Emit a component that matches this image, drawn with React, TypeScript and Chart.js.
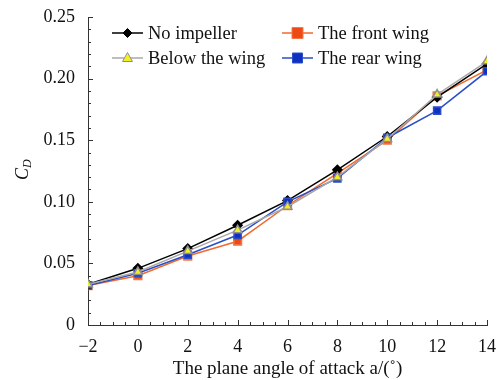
import React, { useEffect, useRef } from "react";
import { Chart, registerables } from "chart.js";

Chart.register(...registerables);

const angles = [-2, 0, 2, 4, 6, 8, 10, 12, 14];
const noImpeller = [0.033, 0.046, 0.062, 0.081, 0.101, 0.126, 0.153, 0.185, 0.212];
const frontWing = [0.032, 0.040, 0.056, 0.068, 0.097, 0.123, 0.150, 0.186, 0.207];
const belowWing = [0.033, 0.043, 0.060, 0.077, 0.096, 0.120, 0.151, 0.187, 0.214];
const rearWing = [0.032, 0.042, 0.057, 0.073, 0.100, 0.119, 0.152, 0.174, 0.206];
const seriesLabels = ["No impeller", "The front wing", "Below the wing", "The rear wing"];
const xTickValues = [-2, 0, 2, 4, 6, 8, 10, 12, 14];
const xTickLabels = ["\u22122", "0", "2", "4", "6", "8", "10", "12", "14"];
const yTickValues = [0, 0.05, 0.1, 0.15, 0.2, 0.25];
const yTickLabels = ["0", "0.05", "0.10", "0.15", "0.20", "0.25"];
const xTitle = "The plane angle of attack a/(\u02da)";

const FONT = "'Liberation Serif', 'Times New Roman', serif";

function toPoints(vals: number[]) {
  return angles.map((a, i) => ({ x: a, y: vals[i] }));
}

function drawMarker(ctx: CanvasRenderingContext2D, style: string, x: number, y: number, r: number, fill: string, stroke: string) {
  ctx.save();
  ctx.beginPath();
  if (style === "rectRot") {
    ctx.moveTo(x, y - r);
    ctx.lineTo(x + r, y);
    ctx.lineTo(x, y + r);
    ctx.lineTo(x - r, y);
    ctx.closePath();
  } else if (style === "rect") {
    ctx.rect(x - r, y - r, 2 * r, 2 * r);
  } else if (style === "triangle") {
    ctx.moveTo(x, y - r * 1.1);
    ctx.lineTo(x + r, y + r * 0.7);
    ctx.lineTo(x - r, y + r * 0.7);
    ctx.closePath();
  }
  ctx.fillStyle = fill;
  ctx.fill();
  ctx.strokeStyle = stroke;
  ctx.lineWidth = 1;
  ctx.stroke();
  ctx.restore();
}

const customPlugin = {
  id: "custom",
  afterDraw(chart: any) {
    const ctx = chart.ctx as CanvasRenderingContext2D;
    const xs = chart.scales.x;
    const ys = chart.scales.y;
    const area = chart.chartArea;
    ctx.save();
    ctx.strokeStyle = "#333";
    ctx.lineWidth = 1;
    // x ticks inward
    for (let v = -2; v <= 14.001; v += 0.5) {
      const px = Math.round(xs.getPixelForValue(v)) + 0.5;
      const major = Math.abs(v / 2 - Math.round(v / 2)) < 1e-6;
      const len = major ? 5 : 3;
      ctx.beginPath();
      ctx.moveTo(px, area.bottom);
      ctx.lineTo(px, area.bottom - len);
      ctx.stroke();
    }
    for (let i = 0; i <= 25; i++) {
      const v = i * 0.01;
      const py = Math.round(ys.getPixelForValue(v)) + 0.5;
      const len = i % 5 === 0 ? 5 : 3;
      ctx.beginPath();
      ctx.moveTo(area.left, py);
      ctx.lineTo(area.left + len, py);
      ctx.stroke();
    }
    // y title C_D
    ctx.fillStyle = "#111";
    ctx.translate(23, (area.top + area.bottom) / 2);
    ctx.rotate(-Math.PI / 2);
    ctx.textBaseline = "middle";
    ctx.textAlign = "left";
    ctx.font = `italic 18px ${FONT}`;
    const wC = ctx.measureText("C").width;
    ctx.fillText("C", -9, 0);
    ctx.font = `italic 12px ${FONT}`;
    ctx.fillText("D", -9 + wC, 5);
    ctx.restore();

    // legend
    ctx.save();
    const positions = [
      { x: 112, y: 33 },
      { x: 282, y: 33 },
      { x: 112, y: 58 },
      { x: 282, y: 58 },
    ];
    chart.data.datasets.forEach((ds: any, i: number) => {
      const p = positions[i];
      ctx.strokeStyle = ds.borderColor;
      ctx.lineWidth = ds.borderWidth;
      ctx.beginPath();
      ctx.moveTo(p.x, p.y);
      ctx.lineTo(p.x + 31, p.y);
      ctx.stroke();
      drawMarker(ctx, ds.pointStyle, p.x + 15.5, p.y, ds.pointRadius, ds.pointBackgroundColor, ds.pointBorderColor);
      ctx.fillStyle = "#111";
      ctx.font = `18.5px ${FONT}`;
      ctx.textBaseline = "middle";
      ctx.textAlign = "left";
      ctx.fillText(ds.label, p.x + 36, p.y + 1);
    });
    ctx.restore();
  },
};

export default function App() {
  const ref = useRef<HTMLCanvasElement>(null);
  useEffect(() => {
    document.body.style.margin = "0";
    const chart = new Chart(ref.current!, {
      type: "line",
      data: {
        datasets: [
          {
            label: seriesLabels[0],
            data: toPoints(noImpeller),
            borderColor: "#000000",
            borderWidth: 1.5,
            pointStyle: "rectRot",
            pointRadius: 4.5,
            pointBackgroundColor: "#000000",
            pointBorderColor: "#000000",
            order: 2,
          },
          {
            label: seriesLabels[1],
            data: toPoints(frontWing),
            borderColor: "#f26a2e",
            borderWidth: 1.5,
            pointStyle: "rect",
            pointRadius: 5.5,
            pointBackgroundColor: "#ee4a14",
            pointBorderColor: "#f07a4a",
            order: 3,
          },
          {
            label: seriesLabels[2],
            data: toPoints(belowWing),
            borderColor: "#a8a8a8",
            borderWidth: 1.5,
            pointStyle: "triangle",
            pointRadius: 5,
            pointBackgroundColor: "#f4f020",
            pointBorderColor: "#909090",
            order: 0,
          },
          {
            label: seriesLabels[3],
            data: toPoints(rearWing),
            borderColor: "#2a4ec8",
            borderWidth: 1.5,
            pointStyle: "rect",
            pointRadius: 5,
            pointBackgroundColor: "#1030c0",
            pointBorderColor: "#2a4ec8",
            order: 1,
          },
        ],
      },
      options: {
        animation: false,
        responsive: false,
        maintainAspectRatio: false,
        layout: { padding: { top: 17, right: 10, left: 0, bottom: 0 } },
        plugins: { legend: { display: false }, tooltip: { enabled: false } },
        elements: { line: { tension: 0 } },
        scales: {
          x: {
            type: "linear",
            min: -2,
            max: 14,
            grid: { display: false },
            border: { display: true, color: "#333", width: 1 },
            afterBuildTicks: (s: any) => {
              s.ticks = xTickValues.map((v) => ({ value: v }));
            },
            afterFit: (s: any) => {
              s.height = 55;
            },
            ticks: {
              color: "#111",
              font: { family: FONT, size: 18 },
              padding: 3,
              maxRotation: 0,
              callback: (v: any) => {
                const i = xTickValues.indexOf(Number(v));
                return i >= 0 ? xTickLabels[i] : "";
              },
            },
            title: {
              display: true,
              text: xTitle,
              color: "#111",
              font: { family: FONT, size: 19 },
              padding: { top: 0, bottom: 0 },
            },
          },
          y: {
            type: "linear",
            min: 0,
            max: 0.25,
            grid: { display: false },
            border: { display: true, color: "#333", width: 1 },
            afterBuildTicks: (s: any) => {
              s.ticks = yTickValues.map((v) => ({ value: v }));
            },
            afterFit: (s: any) => {
              s.width = 88;
            },
            ticks: {
              color: "#111",
              font: { family: FONT, size: 18 },
              padding: 5,
              callback: (v: any) => {
                const i = yTickValues.findIndex((t) => Math.abs(t - Number(v)) < 1e-9);
                return i >= 0 ? yTickLabels[i] : "";
              },
            },
          },
        },
      },
      plugins: [customPlugin],
    } as any);
    return () => chart.destroy();
  }, []);
  return (
    <div style={{ width: 499, height: 380 }}>
      <canvas ref={ref} width={499} height={380} style={{ width: 499, height: 380 }} />
    </div>
  );
}
